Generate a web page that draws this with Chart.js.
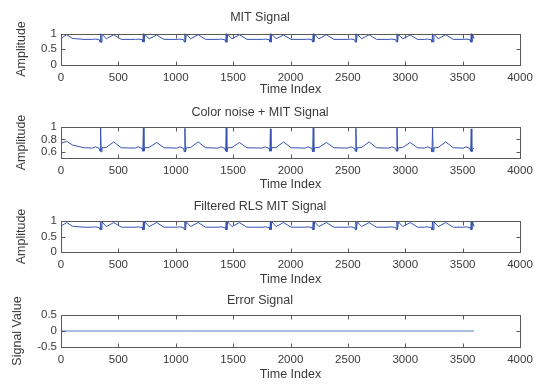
<!DOCTYPE html>
<html>
<head>
<meta charset="utf-8">
<script src="https://cdn.jsdelivr.net/npm/chart.js@4.4.1/dist/chart.umd.min.js"></script>
<style>
  html, body { margin:0; padding:0; background:#fff; }
  body { width:555px; height:387px; position:relative; overflow:hidden; }
  canvas { position:absolute; left:0; }
</style>
</head>
<body>
<canvas id="c1"></canvas>
<canvas id="c2"></canvas>
<canvas id="c3"></canvas>
<canvas id="c4"></canvas>
<script>
// ---- data ----
const titles = ['MIT Signal', 'Color noise + MIT Signal', 'Filtered RLS MIT Signal', 'Error Signal'];
const yTitles = ['Amplitude', 'Amplitude', 'Amplitude', 'Signal Value'];
const xTickLabels = [0, 500, 1000, 1500, 2000, 2500, 3000, 3500, 4000];
const yTicks1 = [0, 0.5, 1];
const yTicks2 = [0.6, 0.8, 1];
const yTicks3 = [0, 0.5, 1];
const yTicks4 = [-0.5, 0, 0.5];

// shared time index vertices of the ECG traces
const timeIndex = [
  0, 5, 50, 100, 200,
  275, 300, 333, 340, 345, 350, 357, 395, 460, 525,
  648, 673, 706, 713, 718, 723, 730, 768, 833, 898,
  1010, 1035, 1068, 1075, 1080, 1085, 1092, 1130, 1195, 1260,
  1370, 1395, 1428, 1435, 1440, 1445, 1452, 1490, 1555, 1620,
  1755, 1780, 1813, 1820, 1825, 1830, 1837, 1875, 1940, 2005,
  2128, 2153, 2186, 2193, 2198, 2203, 2210, 2248, 2313, 2378,
  2500, 2525, 2558, 2565, 2570, 2575, 2582, 2620, 2685, 2750,
  2858, 2883, 2916, 2923, 2928, 2933, 2940, 2978, 3043, 3108,
  3168, 3193, 3226, 3233, 3238, 3243, 3250, 3288, 3353, 3418,
  3505, 3530, 3563, 3570, 3575, 3580, 3587, 3600
];
const mitSignal = [
  0.50, 0.86, 0.96, 0.84, 0.81,
  0.81, 0.82, 0.80, 0.72, 1.00, 0.72, 0.98, 0.83, 0.96, 0.81,
  0.81, 0.82, 0.80, 0.73, 1.00, 0.72, 0.97, 0.83, 0.95, 0.81,
  0.81, 0.82, 0.80, 0.72, 1.00, 0.73, 0.98, 0.83, 0.96, 0.81,
  0.81, 0.82, 0.80, 0.72, 1.00, 0.72, 0.97, 0.83, 0.96, 0.81,
  0.81, 0.82, 0.80, 0.73, 1.00, 0.72, 0.98, 0.83, 0.95, 0.81,
  0.81, 0.82, 0.80, 0.72, 1.00, 0.73, 0.97, 0.83, 0.96, 0.81,
  0.81, 0.82, 0.80, 0.72, 1.00, 0.72, 0.98, 0.83, 0.96, 0.81,
  0.81, 0.82, 0.80, 0.73, 1.00, 0.72, 0.97, 0.83, 0.95, 0.81,
  0.81, 0.82, 0.80, 0.72, 1.00, 0.73, 0.98, 0.83, 0.96, 0.81,
  0.81, 0.82, 0.80, 0.72, 1.00, 0.72, 0.97, 0.83
];
const noisySignal = [
  0.72, 0.74, 0.77, 0.71, 0.665,
  0.66, 0.68, 0.655, 0.61, 0.99, 0.60, 0.665, 0.67, 0.76, 0.665,
  0.66, 0.68, 0.655, 0.61, 0.99, 0.61, 0.665, 0.67, 0.75, 0.665,
  0.66, 0.68, 0.655, 0.60, 0.98, 0.60, 0.665, 0.67, 0.76, 0.665,
  0.66, 0.68, 0.655, 0.61, 0.99, 0.60, 0.665, 0.67, 0.75, 0.665,
  0.66, 0.68, 0.655, 0.61, 0.97, 0.61, 0.665, 0.67, 0.76, 0.665,
  0.66, 0.68, 0.655, 0.60, 0.99, 0.60, 0.665, 0.67, 0.75, 0.665,
  0.66, 0.68, 0.655, 0.61, 0.98, 0.60, 0.665, 0.67, 0.76, 0.665,
  0.66, 0.68, 0.655, 0.61, 0.99, 0.61, 0.665, 0.67, 0.75, 0.665,
  0.66, 0.68, 0.655, 0.60, 0.99, 0.60, 0.665, 0.67, 0.76, 0.665,
  0.66, 0.68, 0.655, 0.61, 0.97, 0.60, 0.64, 0.66
];
const filteredSignal = [
  0.38, 0.85, 0.95, 0.83, 0.80,
  0.80, 0.81, 0.79, 0.72, 1.00, 0.72, 0.97, 0.82, 0.95, 0.80,
  0.80, 0.81, 0.79, 0.72, 1.00, 0.72, 0.97, 0.82, 0.95, 0.80,
  0.80, 0.81, 0.79, 0.72, 1.00, 0.72, 0.97, 0.82, 0.95, 0.80,
  0.80, 0.81, 0.79, 0.72, 1.00, 0.72, 0.97, 0.82, 0.95, 0.80,
  0.80, 0.81, 0.79, 0.72, 1.00, 0.72, 0.97, 0.82, 0.95, 0.80,
  0.80, 0.81, 0.79, 0.72, 1.00, 0.72, 0.97, 0.82, 0.95, 0.80,
  0.80, 0.81, 0.79, 0.72, 1.00, 0.72, 0.97, 0.82, 0.95, 0.80,
  0.80, 0.81, 0.79, 0.72, 1.00, 0.72, 0.97, 0.82, 0.95, 0.80,
  0.80, 0.81, 0.79, 0.72, 1.00, 0.72, 0.97, 0.82, 0.95, 0.80,
  0.80, 0.81, 0.79, 0.72, 1.00, 0.72, 0.97, 0.82
];
const errorIndex = [0, 4, 8, 12, 1100, 3600];
const errorSignal = [0.0, 0.04, -0.04, 0.0, 0.0, 0.0];

// ---- layout of the four panels (pixel centres) ----
const panels = [
  { id:'c1', t:18,  a:33.5,  b:64.5,  xt:90,  yc:22, xs:timeIndex,  ys:mitSignal,      yMin:0,    yMax:1,   yTicks:yTicks1, color:'#3552b0' },
  { id:'c2', t:113, a:127,   b:158,   xt:185, yc:22, xs:timeIndex,  ys:noisySignal,    yMin:0.5,  yMax:1,   yTicks:yTicks2, color:'#3552b0' },
  { id:'c3', t:207, a:221,   b:252,   xt:280, yc:22, xs:timeIndex,  ys:filteredSignal, yMin:0,    yMax:1,   yTicks:yTicks3, color:'#3552b0' },
  { id:'c4', t:301, a:315,   b:347,   xt:375, yc:18, xs:errorIndex, ys:errorSignal,    yMin:-0.5, yMax:0.5, yTicks:yTicks4, color:'#5b7cc8' }
];

const FONT = 'Liberation Sans, Arial, Helvetica, sans-serif';
const TEXT = '#3a3a3a';
const TITLE_SIZE = 12.5;
const TICK_SIZE = 11.5;

const framePlugin = {
  id: 'frame',
  afterDraw(chart) {
    const { ctx, chartArea: { left, right, top, bottom } } = chart;
    const xs = chart.scales.x, ys = chart.scales.y;
    ctx.save();
    ctx.strokeStyle = '#5a5a5a';
    ctx.lineWidth = 1;
    const L = Math.round(left) + 0.5, R = Math.round(right) + 0.5;
    const T = Math.round(top) + 0.5, B = Math.round(bottom) + 0.5;
    ctx.beginPath();
    xs.ticks.forEach(tk => {
      const px = Math.round(xs.getPixelForValue(tk.value)) + 0.5;
      ctx.moveTo(px, B); ctx.lineTo(px, B - 4);
      ctx.moveTo(px, T); ctx.lineTo(px, T + 4);
    });
    ys.ticks.forEach(tk => {
      const py = Math.round(ys.getPixelForValue(tk.value)) + 0.5;
      ctx.moveTo(L, py); ctx.lineTo(L + 4, py);
      ctx.moveTo(R, py); ctx.lineTo(R - 4, py);
    });
    ctx.stroke();
    ctx.strokeRect(L, T, R - L, B - T);
    ctx.restore();
  }
};

panels.forEach((p, i) => {
  const lh = TITLE_SIZE * 1.2;
  const T = p.t - 16;
  const H = Math.round(p.xt + lh / 2 - T);
  const cv = document.getElementById(p.id);
  cv.width = 555; cv.height = H;
  cv.style.top = T + 'px';
  cv.style.width = '555px'; cv.style.height = H + 'px';
  const titlePadTop = p.t - T - lh / 2;
  const titlePadBottom = p.a - (p.t + lh / 2);
  const xHeight = T + H - p.b;
  const xTitlePadBottom = (T + H) - p.xt - lh / 2;

  new Chart(cv, {
    type: 'line',
    data: {
      datasets: [{
        data: p.xs.map((x, k) => ({ x: x, y: p.ys[k] })),
        borderColor: p.color,
        borderWidth: 1,
        pointRadius: 0,
        tension: 0,
        fill: false
      }]
    },
    options: {
      responsive: false,
      animation: false,
      devicePixelRatio: 1,
      layout: { padding: { left: 0, right: 35, top: 0, bottom: 0 } },
      plugins: {
        legend: { display: false },
        tooltip: { enabled: false },
        title: {
          display: true,
          text: titles[i],
          color: TEXT,
          font: { family: FONT, size: TITLE_SIZE, weight: 'normal' },
          padding: { top: titlePadTop, bottom: titlePadBottom }
        }
      },
      scales: {
        x: {
          type: 'linear',
          min: 0, max: 4000,
          afterBuildTicks: s => { s.ticks = xTickLabels.map(v => ({ value: v })); },
          afterFit: s => { s.height = xHeight; },
          grid: { display: false, drawTicks: false },
          border: { display: false },
          ticks: {
            color: TEXT, padding: 6, maxRotation: 0, autoSkip: false,
            font: { family: FONT, size: TICK_SIZE },
            callback: v => String(v)
          },
          title: {
            display: true, text: 'Time Index', color: TEXT,
            font: { family: FONT, size: TITLE_SIZE },
            padding: { top: 0, bottom: xTitlePadBottom }
          }
        },
        y: {
          min: p.yMin, max: p.yMax,
          afterBuildTicks: s => { s.ticks = p.yTicks.map(v => ({ value: v })); },
          afterFit: s => { s.width = 61; },
          grid: { display: false, drawTicks: false },
          border: { display: false },
          ticks: {
            color: TEXT, padding: 4, autoSkip: false,
            font: { family: FONT, size: TICK_SIZE },
            callback: v => String(v)
          },
          title: {
            display: true, text: yTitles[i], color: TEXT,
            font: { family: FONT, size: TITLE_SIZE },
            padding: { top: p.yc - lh / 2, bottom: 0 }
          }
        }
      }
    },
    plugins: [framePlugin]
  });
});
</script>
</body>
</html>
